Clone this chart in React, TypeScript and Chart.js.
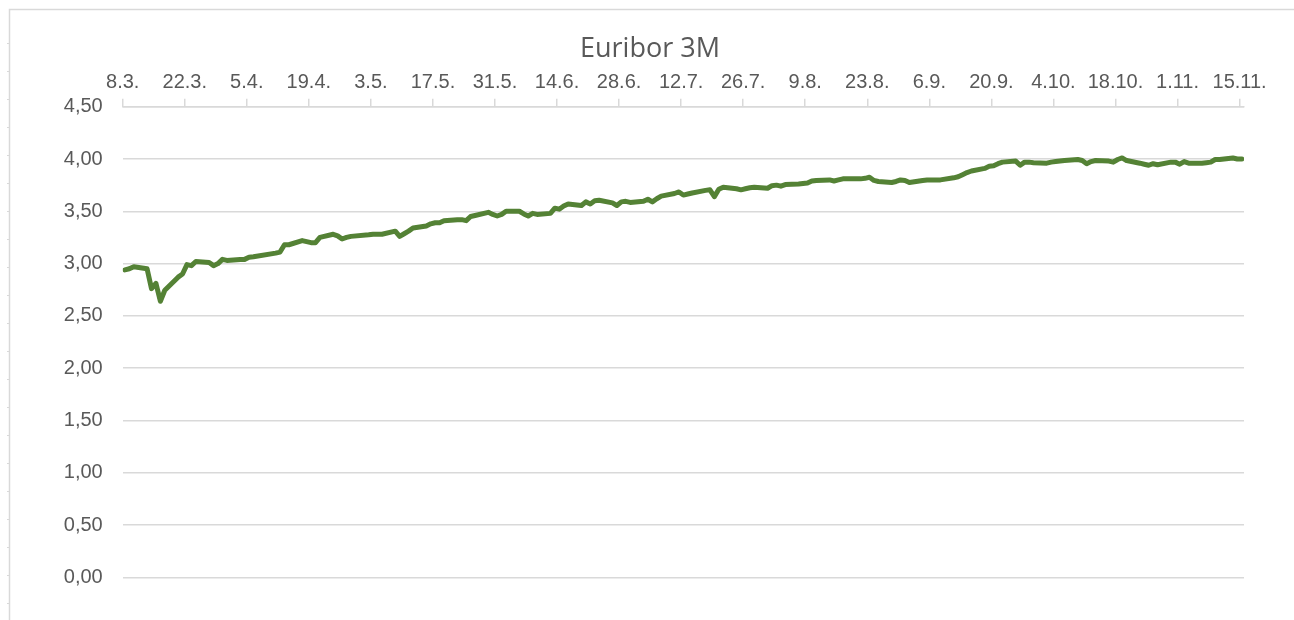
import React, { useEffect, useRef } from "react";
import { Chart, registerables } from "chart.js";

Chart.register(...registerables);

// ---- data ----
const TITLE = "Euribor 3M";
const START_DATE = [2023, 2, 8]; // 8.3.2023
const END_DATE = [2023, 10, 15]; // 15.11.2023
const HOLIDAYS = ["2023-04-07", "2023-04-10", "2023-05-01"];

const xTickLabels = [
  "8.3.", "22.3.", "5.4.", "19.4.", "3.5.", "17.5.", "31.5.", "14.6.", "28.6.",
  "12.7.", "26.7.", "9.8.", "23.8.", "6.9.", "20.9.", "4.10.", "18.10.", "1.11.", "15.11.",
];
const X_TICK_STEP_DAYS = 14;
const yTicks = [0, 0.5, 1, 1.5, 2, 2.5, 3, 3.5, 4, 4.5];

// Euribor 3M, one value per fixing day (weeks listed row by row)
const euriborValues = [
  2.94, 2.95, 2.97,
  2.95, 2.76, 2.81, 2.64, 2.745,
  2.87, 2.90, 2.99, 2.98, 3.02,
  3.01, 2.98, 3.00, 3.04, 3.03,
  3.04, 3.04, 3.06, 3.065,
  3.10, 3.11, 3.18, 3.18,
  3.22, 3.21, 3.20, 3.20, 3.25,
  3.28, 3.265, 3.235, 3.25, 3.26,
  3.275, 3.28, 3.28, 3.28,
  3.31, 3.26, 3.285, 3.31, 3.34,
  3.36, 3.38, 3.39, 3.39, 3.41,
  3.42, 3.42, 3.41, 3.45, 3.46,
  3.49, 3.47, 3.455, 3.47, 3.50,
  3.50, 3.475, 3.455, 3.48, 3.47,
  3.48, 3.53, 3.52, 3.55, 3.57,
  3.555, 3.59, 3.57, 3.60, 3.605,
  3.58, 3.555, 3.59, 3.595, 3.585,
  3.595, 3.615, 3.59, 3.62, 3.645,
  3.67, 3.685, 3.655, 3.665, 3.675,
  3.70, 3.705, 3.64, 3.71, 3.73,
  3.715, 3.705, 3.715, 3.725, 3.73,
  3.72, 3.745, 3.75, 3.74, 3.755,
  3.76, 3.765, 3.77, 3.79, 3.795,
  3.80, 3.79, 3.80, 3.81, 3.81,
  3.81, 3.815, 3.825, 3.795, 3.785,
  3.775, 3.785, 3.80, 3.795, 3.775,
  3.795, 3.80, 3.80, 3.80, 3.80,
  3.82, 3.83, 3.85, 3.87, 3.885,
  3.91, 3.93, 3.935, 3.955, 3.97,
  3.98, 3.94, 3.97, 3.97, 3.965,
  3.96, 3.97, 3.975, 3.98, 3.985,
  3.995, 3.985, 3.955, 3.975, 3.985,
  3.98, 3.97, 3.995, 4.01, 3.985,
  3.96, 3.95, 3.94, 3.955, 3.945,
  3.97, 3.97, 3.95, 3.975, 3.96,
  3.96, 3.965, 3.97, 3.995, 3.995,
  4.01, 4.00, 4.00,
];

// fixing days as day offsets from START_DATE (weekdays, TARGET holidays excluded)
function fixingDayOffsets(): number[] {
  const start = new Date(Date.UTC(START_DATE[0], START_DATE[1], START_DATE[2]));
  const end = new Date(Date.UTC(END_DATE[0], END_DATE[1], END_DATE[2]));
  const out: number[] = [];
  const msDay = 86400000;
  for (let t = start.getTime(); t <= end.getTime(); t += msDay) {
    const d = new Date(t);
    const wd = d.getUTCDay();
    if (wd === 0 || wd === 6) continue;
    const iso = d.toISOString().slice(0, 10);
    if (HOLIDAYS.includes(iso)) continue;
    out.push(Math.round((t - start.getTime()) / msDay));
  }
  return out;
}

const GRID = "#d9d9d9";
const TEXT = "#595959";
const LINE = "#548235";

export default function App() {
  const ref = useRef<HTMLCanvasElement | null>(null);

  useEffect(() => {
    if (!ref.current) return;
    const offsets = fixingDayOffsets();
    const n = Math.min(offsets.length, euriborValues.length);
    const points = [];
    for (let i = 0; i < n; i++) points.push({ x: offsets[i] + 0.5, y: euriborValues[i] });
    const spanDays = (xTickLabels.length - 1) * X_TICK_STEP_DAYS + 1;

    const framePlugin = {
      id: "frame",
      beforeDraw(chart: any) {
        const ctx = chart.ctx;
        ctx.save();
        ctx.strokeStyle = GRID;
        ctx.lineWidth = 1.5;
        ctx.beginPath();
        ctx.moveTo(9.5, 620);
        ctx.lineTo(9.5, 9.5);
        ctx.lineTo(1294, 9.5);
        ctx.stroke();
        ctx.lineWidth = 1;
        for (let y = 43; y < 620; y += 28) {
          ctx.beginPath();
          ctx.moveTo(7, y + 0.5);
          ctx.lineTo(9.5, y + 0.5);
          ctx.stroke();
        }
        ctx.restore();
      },
      afterDraw(chart: any) {
        const ctx = chart.ctx;
        ctx.save();
        ctx.fillStyle = TEXT;
        ctx.font = '27px "Open Sans"';
        ctx.textAlign = "center";
        ctx.textBaseline = "middle";
        ctx.fillText(TITLE, 650, 49);
        ctx.restore();
      },
    };

    const font = { family: '"Liberation Sans", Arial, sans-serif', size: 20 };

    const chart = new Chart(ref.current, {
      type: "line",
      data: {
        datasets: [
          {
            data: points,
            borderColor: LINE,
            borderWidth: 5,
            pointRadius: 0,
            tension: 0,
            fill: false,
            borderCapStyle: "round",
            borderJoinStyle: "round",
          },
        ],
      },
      options: {
        animation: false,
        responsive: false,
        layout: { padding: { left: 0, top: 0, right: 50, bottom: 42.7 } },
        plugins: { legend: { display: false }, tooltip: { enabled: false }, title: { display: false } },
        scales: {
          x: {
            type: "linear",
            position: "top",
            min: 0,
            max: spanDays,
            afterFit: (s: any) => {
              s.height = 106.7;
            },
            afterBuildTicks: (s: any) => {
              s.ticks = xTickLabels.map((_, i) => ({ value: i * X_TICK_STEP_DAYS }));
            },
            ticks: {
              callback: (_v: any, i: number) => xTickLabels[i],
              font,
              color: TEXT,
              padding: 4,
              maxRotation: 0,
              autoSkip: false,
            },
            grid: { drawOnChartArea: false, drawTicks: true, tickLength: 8, color: GRID, lineWidth: 1.5 },
            border: { display: true, color: GRID, width: 1.5 },
          },
          y: {
            min: 0,
            max: 4.5,
            afterFit: (s: any) => {
              s.width = 122.7;
            },
            afterBuildTicks: (s: any) => {
              s.ticks = yTicks.map((v) => ({ value: v }));
            },
            ticks: {
              callback: (v: any) => Number(v).toFixed(2).replace(".", ","),
              font,
              color: TEXT,
              padding: 20,
            },
            grid: { color: GRID, lineWidth: 1.5, drawTicks: false },
            border: { display: false },
          },
        },
      },
      plugins: [framePlugin],
    } as any);

    return () => chart.destroy();
  }, []);

  return (
    <div style={{ position: "fixed", left: 0, top: 0, width: 1294, height: 620, background: "#fff" }}>
      <canvas ref={ref} width={1294} height={620} style={{ width: 1294, height: 620, display: "block" }} />
    </div>
  );
}
